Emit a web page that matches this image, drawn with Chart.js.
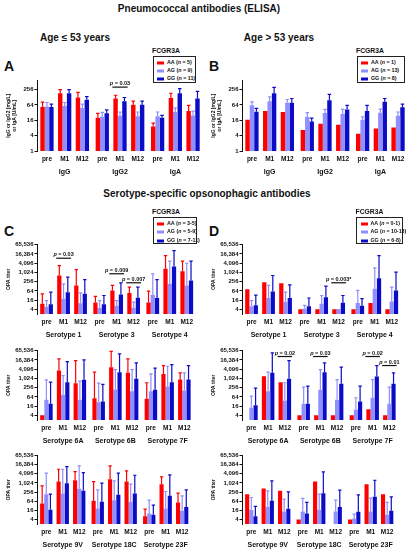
<!DOCTYPE html>
<html>
<head>
<meta charset="utf-8">
<script src="https://cdn.jsdelivr.net/npm/chart.js@4.4.1/dist/chart.umd.min.js"></script>
<style>
  body { margin: 0; background: #fff; }
  #page { position: relative; width: 410px; height: 550px; overflow: hidden; font-family: 'Liberation Sans', Arial, sans-serif; font-weight: bold; color: #111; }
  #page canvas { position: absolute; }
  .t { position: absolute; white-space: nowrap; transform: translate(-50%, -50%); line-height: 1; }
  .l { position: absolute; white-space: nowrap; line-height: 1; transform: translateY(-50%); }
  .box { position: absolute; border: 1px solid #222; box-sizing: border-box; background: #fff; }
  .sw { position: absolute; width: 7px; height: 3px; transform: translateY(-50%); }
</style>
</head>
<body>
<div id="page">
  <div class="t" style="left:199px;top:9px;font-size:10px">Pneumococcal antibodies (ELISA)</div>
  <div class="t" style="left:75px;top:38px;font-size:10px">Age &le; 53 years</div>
  <div class="t" style="left:279px;top:38px;font-size:10px">Age &gt; 53 years</div>
  <div class="t" style="left:9px;top:66px;font-size:14px">A</div>
  <div class="t" style="left:214px;top:66px;font-size:14px">B</div>
  <div class="t" style="left:207px;top:194px;font-size:10px">Serotype-specific opsonophagic antibodies</div>
  <div class="t" style="left:9px;top:231px;font-size:14px">C</div>
  <div class="t" style="left:214px;top:231px;font-size:14px">D</div>

  <canvas id="chartA" width="205" height="103" style="left:0;top:76px"></canvas>
  <canvas id="chartB" width="205" height="103" style="left:205px;top:76px"></canvas>
  <canvas id="chartC1" width="205" height="102" style="left:0;top:240px"></canvas>
  <canvas id="chartD1" width="205" height="102" style="left:205px;top:240px"></canvas>
  <canvas id="chartC2" width="205" height="102" style="left:0;top:346px"></canvas>
  <canvas id="chartD2" width="205" height="102" style="left:205px;top:346px"></canvas>
  <canvas id="chartC3" width="205" height="101" style="left:0;top:451px"></canvas>
  <canvas id="chartD3" width="205" height="101" style="left:205px;top:451px"></canvas>
</div>
<script>
const timepoints = ['pre', 'M1', 'M12'];
const genotypes = ['AA', 'AG', 'GG'];
const genoColors = ['#ff0000', '#8f8fff', '#0c0cc6'];

const elisaGroups = ['IgG', 'IgG2', 'IgA'];
const serotypesRow1 = ['Serotype 1', 'Serotype 3', 'Serotype 4'];
const serotypesRow2 = ['Serotype 6A', 'Serotype 6B', 'Serotype 7F'];
const serotypesRow3 = ['Serotype 9V', 'Serotype 18C', 'Serotype 23F'];

const elisaTicks = [1, 4, 16, 64, 256];
const opaTicks = [4, 16, 64, 256, 1024, 4096, 16384, 65536];

const nA = ['5', '9', '11'];
const nB = ['1', '13', '8'];
const nC = ['3-5', '5-9', '7-11'];
const nD = ['0-1', '10-13', '6-8'];

// each array: group1 pre, M1, M12, group2 pre, M1, M12, group3 pre, M1, M12
// A: ELISA, age <= 53
const aAA  = [53, 185, 126, 20, 115, 65, 9.2, 121, 37];
const aAAe = [83, 256, 200, 30, 154, 90, 12.5, 185, 62];
const aAG  = [56, 58, 49, 22, 24, 23, 23, 34, 25];
const aAGe = [80, 80, 69, 33, 34, 34, 34, 49, 37];
const aGG  = [53, 185, 102, 30, 90, 65, 20, 185, 115];
const aGGe = [69, 256, 137, 41, 126, 90, 25, 280, 220];

// B: ELISA, age > 53
const bAA  = [17, 37, 34, 6.7, 11.7, 10.7, 4.8, 7.7, 8.4];
const bAG  = [63, 90, 78, 22, 31, 28.5, 17, 32, 24];
const bAGe = [85, 133, 105, 32, 43, 43, 22, 44, 34];
const bGG  = [35, 185, 78, 14.4, 99, 43, 37, 85, 52];
const bGGe = [47, 315, 115, 19.4, 168, 62, 62, 115, 69];

// C: OPA, age <= 53
const c1AA  = [9.3, 640, 144, 11.4, 68, 46, 11.4, 1730, 1230];
const c1AAe = [41, 2850, 1550, 28, 144, 112, 62, 12700, 5450];
const c1AG  = [5.7, 20, 10, 5.1, 6.9, 5.1, 36, 185, 144];
const c1AGe = [15, 185, 48, 15, 15, 12, 820, 5450, 4000];
const c1GG  = [8.5, 53, 41, 8.5, 37.5, 23, 22, 2450, 305];
const c1GGe = [53, 500, 340, 32, 214, 112, 350, 26600, 5450];

const c2AA  = [4, 3300, 500, 53, 5450, 2330, 48, 2000, 860];
const c2AAe = [null, 18800, 14700, 2570, 59000, 18800, 530, 7000, 2330];
const c2AG  = [41, 87, 41, 29, 194, 151, 151, 305, 166];
const c2AGe = [820, 1560, 670, 500, 3800, 3800, 2000, 6300, 2330];
const c2GG  = [23, 580, 820, 32, 2570, 950, 185, 580, 860];
const c2GGe = [580, 12700, 16300, 410, 40000, 10400, 4700, 8100, 7000];

const c3AA  = [45, 1270, 1550, 68, 1820, 1270, 6.6, 850, 53];
const c3AAe = [660, 8200, 5800, 1270, 13700, 6400, 19, 2600, 217];
const c3AG  = [186, 206, 420, 21, 75, 58, 10, 21, 15];
const c3AGe = [4500, 8200, 13700, 360, 1410, 850, 75, 280, 145];
const c3GG  = [17.4, 990, 310, 58, 168, 206, 8.1, 145, 27];
const c3GGe = [186, 12400, 5000, 990, 4500, 3300, 35, 3500, 360];

// D: OPA, age > 53
const d1AA  = [83, 237, 204, 4, 4, 4, 4, 10.3, 4];
const d1AG  = [6.3, 22, 12.5, 4.4, 9.3, 4.2, 10.3, 87, 13];
const d1AGe = [15, 144, 53, 7.3, 32, null, 68, 2000, 112];
const d1GG  = [7.3, 59, 22, 6.3, 25, 10.8, 6.9, 430, 68];
const d1GGe = [34, 640, 159, 22, 130, 32, 20, 12700, 1050];

const d2AA  = [null, 1420, 580, 4, 4, 4, 4, 10, 4];
const d2AG  = [12.6, 151, 37.5, 23, 185, 41, 9.8, 56, 23];
const d2AGe = [72, 2570, 530, 275, 3800, 860, 56, 860, 275];
const d2GG  = [18, 2330, 950, 23, 2570, 450, 32, 1350, 450];
const d2GGe = [237, 46000, 14700, 320, 10400, 5450, 320, 7000, 2330];

const d3AA  = [186, 440, 310, 4, 1270, null, 4, 850, 186];
const d3AG  = [17.4, 27, 13.4, 13.4, 17.4, 13.4, 4.6, 13.4, 8.1];
const d3AGe = [112, 310, 87, 97, 186, 75, 9, 102, 53];
const d3GG  = [6.6, 68, 20, 10, 217, 27, 12.8, 124, 15];
const d3GGe = [29, 1410, 265, 53, 5500, 340, 168, 1550, 124];

// significance bars: group index, timepoint index, height (in axis units), p text
const pA  = [{ group: 1, time: 1, y: 322, text: '0.03' }];
const pC1 = [{ group: 0, time: 1, y: 8500, text: '0.03' },
             { group: 1, time: 1, y: 830, text: '0.009' },
             { group: 1, time: 2, y: 215, text: '0.007' }];
const pD1 = [{ group: 1, time: 2, y: 215, text: '0.003*' }];
const pD2 = [{ group: 0, time: 2, y: 27000, text: '0.02' },
             { group: 1, time: 1, y: 27000, text: '0.03' },
             { group: 2, time: 1, y: 27000, text: '0.02' },
             { group: 2, time: 2, y: 7000, text: '0.01' }];

const FONT = "'Liberation Sans', Arial, sans-serif";
Chart.defaults.font.family = FONT;
Chart.defaults.color = '#111';

function buildDatasets(values, errors) {
  const sets = [];
  timepoints.forEach((tp, t) => {
    values.forEach((vals, g) => {
      sets.push({
        label: genotypes[g] + ' ' + tp,
        data: [0, 1, 2].map(k => vals[k * 3 + t]),
        errUp: errors[g] ? [0, 1, 2].map(k => errors[g][k * 3 + t]) : null,
        backgroundColor: genoColors[g]
      });
    });
    // empty slot between time points
    if (t < timepoints.length - 1) sets.push({ label: '', data: [null, null, null] });
  });
  return sets;
}

const extras = {
  id: 'extras',
  afterDatasetsDraw(chart) {
    const ctx = chart.ctx;
    const ys = chart.scales.y;
    const area = chart.chartArea;
    // upper error bars
    chart.data.datasets.forEach((ds, i) => {
      if (!ds.errUp) return;
      chart.getDatasetMeta(i).data.forEach((bar, j) => {
        const up = ds.errUp[j];
        if (up == null || ds.data[j] == null) return;
        const yTop = ys.getPixelForValue(up);
        ctx.save();
        ctx.strokeStyle = ds.backgroundColor;
        ctx.lineWidth = 1.2;
        ctx.beginPath();
        ctx.moveTo(bar.x, bar.y);
        ctx.lineTo(bar.x, yTop);
        ctx.moveTo(bar.x - bar.width * 0.4, yTop);
        ctx.lineTo(bar.x + bar.width * 0.4, yTop);
        ctx.stroke();
        ctx.restore();
      });
    });
    // time point labels under each triple
    ctx.save();
    ctx.fillStyle = '#111';
    ctx.font = 'bold 6.5px ' + FONT;
    ctx.textAlign = 'center';
    ctx.textBaseline = 'middle';
    timepoints.forEach((tp, t) => {
      chart.getDatasetMeta(t * 4 + 1).data.forEach(bar => {
        ctx.fillText(tp, bar.x, area.bottom + 8.5);
      });
    });
    ctx.restore();
    // p-value brackets
    const pvals = chart.options.plugins.extras.pvals || [];
    pvals.forEach(p => {
      const first = chart.getDatasetMeta(p.time * 4).data[p.group];
      const last = chart.getDatasetMeta(p.time * 4 + 2).data[p.group];
      const x1 = first.x - first.width / 2 - 1;
      const x2 = last.x + last.width / 2 + 1;
      const yy = ys.getPixelForValue(p.y);
      ctx.save();
      ctx.strokeStyle = '#111';
      ctx.lineWidth = 1.2;
      ctx.beginPath();
      ctx.moveTo(x1, yy);
      ctx.lineTo(x2, yy);
      ctx.stroke();
      ctx.fillStyle = '#111';
      ctx.textBaseline = 'alphabetic';
      ctx.font = 'italic bold 5.5px ' + FONT;
      const wp = ctx.measureText('p').width;
      ctx.font = 'bold 5.5px ' + FONT;
      const rest = ' = ' + p.text;
      const wr = ctx.measureText(rest).width;
      const sx = (x1 + x2) / 2 - (wp + wr) / 2;
      ctx.font = 'italic bold 5.5px ' + FONT;
      ctx.fillText('p', sx, yy - 2);
      ctx.font = 'bold 5.5px ' + FONT;
      ctx.fillText(rest, sx + wp, yy - 2);
      ctx.restore();
    });
  }
};

function makeChart(id, groups, values, errors, ticks, yMin, yMax, yTitle, pvals) {
  return new Chart(document.getElementById(id), {
    type: 'bar',
    data: { labels: groups, datasets: buildDatasets(values, errors) },
    options: {
      responsive: false,
      animation: false,
      layout: { padding: { top: 4, right: 2, left: 0, bottom: 0 } },
      datasets: { bar: { categoryPercentage: 0.88, barPercentage: 1 } },
      plugins: {
        legend: { display: false },
        tooltip: { enabled: false },
        extras: { pvals: pvals }
      },
      scales: {
        x: {
          grid: { display: false, drawTicks: false },
          border: { display: false },
          ticks: { padding: 17, color: '#111', font: { size: 7, weight: 'bold' } },
          afterFit: s => { s.height = 28; }
        },
        y: {
          type: 'logarithmic',
          min: yMin,
          max: yMax,
          afterBuildTicks: s => { s.ticks = ticks.map(v => ({ value: v })); },
          ticks: {
            autoSkip: false,
            padding: 1,
            color: '#111',
            font: { size: 6, weight: 'bold' },
            callback: v => v.toLocaleString('en-US')
          },
          grid: { drawOnChartArea: false, drawTicks: true, tickLength: 2.5, color: '#111', lineWidth: 1 },
          border: { color: '#111', width: 1 },
          title: { display: true, text: yTitle, color: '#111', font: { size: 5, weight: 'bold', lineHeight: 1.2 }, padding: { top: 6, bottom: 0 } },
          afterFit: s => { s.width = 37; }
        }
      }
    },
    plugins: [extras]
  });
}

const elisaTitle = ['IgG or IgG2 [mg/L]', 'or IgA [U/mL]'];
const opaTitle = 'OPA titer';

makeChart('chartA', elisaGroups, [aAA, aAG, aGG], [aAAe, aAGe, aGGe], elisaTicks, 1, 580, elisaTitle, pA);
makeChart('chartB', elisaGroups, [bAA, bAG, bGG], [null, bAGe, bGGe], elisaTicks, 1, 580, elisaTitle, []);
makeChart('chartC1', serotypesRow1, [c1AA, c1AG, c1GG], [c1AAe, c1AGe, c1GGe], opaTicks, 2, 65536, opaTitle, pC1);
makeChart('chartD1', serotypesRow1, [d1AA, d1AG, d1GG], [null, d1AGe, d1GGe], opaTicks, 2, 65536, opaTitle, pD1);
makeChart('chartC2', serotypesRow2, [c2AA, c2AG, c2GG], [c2AAe, c2AGe, c2GGe], opaTicks, 2, 65536, opaTitle, []);
makeChart('chartD2', serotypesRow2, [d2AA, d2AG, d2GG], [null, d2AGe, d2GGe], opaTicks, 2, 65536, opaTitle, pD2);
makeChart('chartC3', serotypesRow3, [c3AA, c3AG, c3GG], [c3AAe, c3AGe, c3GGe], opaTicks, 2, 65536, opaTitle, []);
makeChart('chartD3', serotypesRow3, [d3AA, d3AG, d3GG], [null, d3AGe, d3GGe], opaTicks, 2, 65536, opaTitle, []);

// legends (HTML boxes above the plots)
function addLegend(x, y, w, h, ns) {
  const page = document.getElementById('page');
  const head = document.createElement('div');
  head.className = 'l';
  head.style.cssText = 'left:' + x + 'px;top:' + (y - 5) + 'px;font-size:6.8px';
  head.textContent = 'FCGR3A';
  page.appendChild(head);
  const box = document.createElement('div');
  box.className = 'box';
  box.style.cssText = 'left:' + (x + 0.5) + 'px;top:' + y + 'px;width:' + w + 'px;height:' + h + 'px';
  genotypes.forEach((g, i) => {
    const cy = 6 + i * 8.2;
    const sw = document.createElement('div');
    sw.className = 'sw';
    sw.style.cssText = 'left:3.5px;top:' + cy + 'px;background:' + genoColors[i];
    box.appendChild(sw);
    const lab = document.createElement('div');
    lab.className = 'l';
    lab.style.cssText = 'left:13.5px;top:' + cy + 'px;font-size:5.3px';
    lab.innerHTML = g + ' (<i>n</i> = ' + ns[i] + ')';
    box.appendChild(lab);
  });
  page.appendChild(box);
}
addLegend(152, 56, 43.5, 27, nA);
addLegend(356, 56, 48.5, 27, nB);
addLegend(152, 217.3, 44.5, 26.5, nC);
addLegend(355.5, 217.3, 46.5, 26.5, nD);
</script>
</body>
</html>
